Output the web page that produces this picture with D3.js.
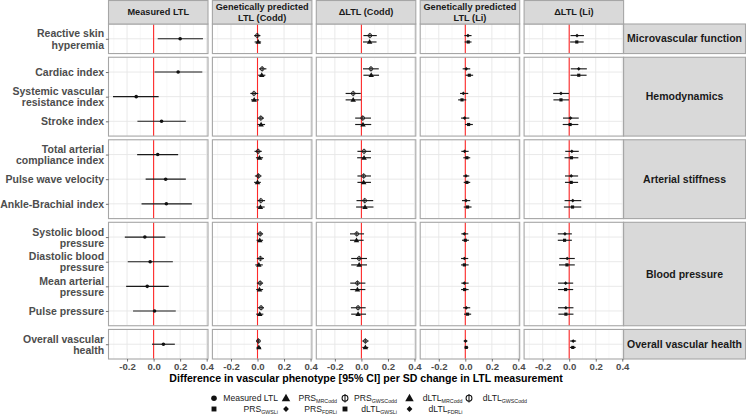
<!DOCTYPE html>
<html><head><meta charset="utf-8">
<script src="https://cdn.jsdelivr.net/npm/d3@7"></script>
<style>
html,body{margin:0;padding:0;background:#fff;}
svg{display:block;font-family:"Liberation Sans",Arial,Helvetica,sans-serif;}
</style></head>
<body><svg id="chart" width="746" height="414"></svg>
<script>
// ---------- DATA ----------
const columnLabels = ["Measured LTL", "Genetically predicted\nLTL (Codd)", "\u0394LTL (Codd)", "Genetically predicted\nLTL (Li)", "\u0394LTL (Li)"];
const groupLabels = ["Microvascular function", "Hemodynamics", "Arterial stiffness", "Blood pressure", "Overall vascular health"];
const outcomes = ["Reactive skin\nhyperemia", "Cardiac index", "Systemic vascular\nresistance index", "Stroke index",
  "Total arterial\ncompliance index", "Pulse wave velocity", "Ankle-Brachial index",
  "Systolic blood\npressure", "Diastolic blood\npressure", "Mean arterial\npressure", "Pulse pressure",
  "Overall vascular\nhealth"];
const outcomeGroup = [0, 1, 1, 1, 2, 2, 2, 3, 3, 3, 3, 4];
const xTicks = [-0.2, 0.0, 0.2, 0.4];
const xMinor = [-0.3, -0.1, 0.1, 0.3];

// [estimate, lower, upper] per outcome
const measuredLTL = [[0.200,0.031,0.372],[0.185,0.007,0.367],[-0.131,-0.306,0.038],[0.060,-0.122,0.243],
  [0.031,-0.124,0.185],[0.091,-0.060,0.243],[0.096,-0.091,0.288],[-0.066,-0.217,0.088],
  [-0.026,-0.195,0.145],[-0.048,-0.207,0.114],[0.007,-0.155,0.167],[0.074,-0.012,0.160]];
const PRS_MRCodd = [[0.005,-0.022,0.027],[0.032,0.005,0.059],[-0.025,-0.049,0.010],[0.027,0.000,0.057],
  [0.015,-0.012,0.042],[0.000,-0.025,0.025],[0.022,-0.007,0.054],[0.017,-0.007,0.042],
  [0.010,-0.017,0.040],[0.015,-0.010,0.042],[0.017,-0.010,0.044],[0.010,-0.007,0.025]];
const PRS_GWSCodd = [[-0.002,-0.025,0.022],[0.035,0.012,0.067],[-0.027,-0.054,0.005],[0.025,0.000,0.049],
  [0.005,-0.022,0.032],[0.007,-0.020,0.030],[0.025,0.000,0.057],[0.020,-0.005,0.042],
  [0.022,-0.005,0.049],[0.020,-0.005,0.042],[0.027,0.002,0.049],[0.007,-0.010,0.022]];
const dLTL_MRCodd = [[0.062,0.012,0.114],[0.074,0.015,0.133],[-0.062,-0.119,-0.002],[0.012,-0.047,0.074],
  [0.020,-0.032,0.072],[0.017,-0.030,0.072],[0.027,-0.040,0.091],[-0.037,-0.086,0.017],
  [-0.017,-0.077,0.042],[-0.030,-0.084,0.030],[-0.025,-0.077,0.035],[0.030,0.007,0.052]];
const dLTL_GWSCodd = [[0.064,0.015,0.116],[0.072,0.012,0.131],[-0.062,-0.119,-0.005],[0.010,-0.047,0.072],
  [0.020,-0.030,0.072],[0.017,-0.030,0.072],[0.025,-0.037,0.089],[-0.035,-0.086,0.020],
  [-0.017,-0.077,0.042],[-0.030,-0.084,0.030],[-0.025,-0.079,0.032],[0.030,0.007,0.054]];
const PRS_GWSLi = [[0.022,-0.005,0.047],[0.030,0.002,0.059],[-0.025,-0.054,0.007],[0.025,-0.002,0.057],
  [0.012,-0.015,0.037],[0.012,-0.012,0.037],[0.017,-0.012,0.047],[0.000,-0.025,0.027],
  [-0.007,-0.032,0.025],[-0.005,-0.032,0.025],[0.017,-0.010,0.044],[0.007,-0.005,0.022]];
const PRS_FDRLi = [[0.020,-0.007,0.047],[0.007,-0.020,0.037],[-0.015,-0.040,0.022],[-0.005,-0.032,0.030],
  [-0.005,-0.030,0.025],[0.005,-0.017,0.030],[0.005,-0.025,0.037],[-0.007,-0.030,0.022],
  [-0.007,-0.032,0.022],[-0.007,-0.030,0.025],[0.007,-0.017,0.037],[0.002,-0.012,0.015]];
const dLTL_GWSLi = [[0.057,0.007,0.109],[0.072,0.010,0.131],[-0.062,-0.119,-0.002],[0.007,-0.049,0.069],
  [0.017,-0.035,0.069],[0.015,-0.032,0.067],[0.025,-0.040,0.091],[-0.035,-0.086,0.020],
  [-0.017,-0.077,0.042],[-0.027,-0.084,0.030],[-0.025,-0.081,0.032],[0.027,0.005,0.049]];
const dLTL_FDRLi = [[0.059,0.010,0.111],[0.072,0.012,0.133],[-0.062,-0.121,-0.002],[0.010,-0.047,0.072],
  [0.020,-0.030,0.072],[0.015,-0.032,0.067],[0.027,-0.035,0.091],[-0.032,-0.086,0.020],
  [-0.015,-0.074,0.042],[-0.027,-0.084,0.030],[-0.025,-0.084,0.032],[0.030,0.007,0.052]];

// series: column index, dodge (-1 top, 0 centre, +1 bottom), shape
const series = [
  {key:"Measured LTL", base:"Measured LTL", sub:"", data:measuredLTL, col:0, dodge:0, shape:"circle"},
  {key:"PRS_MRCodd", base:"PRS", sub:"MRCodd", data:PRS_MRCodd, col:1, dodge:1, shape:"triangle"},
  {key:"PRS_GWSCodd", base:"PRS", sub:"GWSCodd", data:PRS_GWSCodd, col:1, dodge:-1, shape:"phi"},
  {key:"dLTL_MRCodd", base:"dLTL", sub:"MRCodd", data:dLTL_MRCodd, col:2, dodge:1, shape:"triangle"},
  {key:"dLTL_GWSCodd", base:"dLTL", sub:"GWSCodd", data:dLTL_GWSCodd, col:2, dodge:-1, shape:"phi"},
  {key:"PRS_GWSLi", base:"PRS", sub:"GWSLi", data:PRS_GWSLi, col:3, dodge:1, shape:"square"},
  {key:"PRS_FDRLi", base:"PRS", sub:"FDRLi", data:PRS_FDRLi, col:3, dodge:-1, shape:"diamond"},
  {key:"dLTL_GWSLi", base:"dLTL", sub:"GWSLi", data:dLTL_GWSLi, col:4, dodge:1, shape:"square"},
  {key:"dLTL_FDRLi", base:"dLTL", sub:"FDRLi", data:dLTL_FDRLi, col:4, dodge:-1, shape:"diamond"}
];

// ---------- LAYOUT ----------
const svg = d3.select("#chart");
const panelLeft = 108.5, panelW = 99.5, gapX = 4.4;
const panelTop = 24, panelBottom = 359, gapY = 3.7;
const borderCol = "#a6a6a6";
const nPerGroup = groupLabels.map((g, gi) => outcomeGroup.filter(o => o === gi).length);
const units = nPerGroup.map(n => n - 1 + 1.2);
const unit = (panelBottom - panelTop - gapY * (groupLabels.length - 1)) / d3.sum(units);

const rowTops = [];
{ let y = panelTop; units.forEach(u => { rowTops.push(y); y += u * unit + gapY; }); }
const rowH = units.map(u => u * unit);

const yScales = groupLabels.map((g, gi) => {
  const items = outcomes.filter((o, i) => outcomeGroup[i] === gi);
  return d3.scalePoint().domain(items).range([rowTops[gi], rowTops[gi] + rowH[gi]]).padding(0.6);
});
const xScales = columnLabels.map((c, ci) => {
  const x0 = panelLeft + ci * (panelW + gapX);
  return d3.scaleLinear().domain([-0.34, 0.41]).range([x0, x0 + panelW]);
});
const stripX = xScales[4].range()[1];
const stripRightW = 746 - stripX - 0.5;

// shapes
function drawShape(g, shape, x, y, s) {
  if (shape === "circle") {
    g.append("circle").attr("cx", x).attr("cy", y).attr("r", 1.8 * s).attr("fill", "#111");
  } else if (shape === "triangle") {
    g.append("path").attr("d", d3.symbol(d3.symbolTriangle, 13 * s * s)()).attr("transform", `translate(${x},${y + 0.3 * s})`).attr("fill", "#111");
  } else if (shape === "square") {
    g.append("path").attr("d", d3.symbol(d3.symbolSquare, 10 * s * s)()).attr("transform", `translate(${x},${y})`).attr("fill", "#111");
  } else if (shape === "diamond") {
    g.append("path").attr("d", d3.symbol(d3.symbolSquare, 7 * s * s)()).attr("transform", `translate(${x},${y}) rotate(45)`).attr("fill", "#111");
  } else if (shape === "phi") {
    g.append("circle").attr("cx", x).attr("cy", y).attr("r", 1.9 * s).attr("fill", "none").attr("stroke", "#111").attr("stroke-width", 0.8 * Math.min(s, 1.3));
    g.append("line").attr("x1", x).attr("x2", x).attr("y1", y - 2.7 * s).attr("y2", y + 2.7 * s).attr("stroke", "#111").attr("stroke-width", 0.8 * Math.min(s, 1.3));
  }
}

// ---------- PANELS ----------
groupLabels.forEach((g, gi) => {
  const y = yScales[gi];
  columnLabels.forEach((c, ci) => {
    const x = xScales[ci];
    const pg = svg.append("g");
    const [x0, x1] = x.range();
    const [y0, y1] = y.range();
    pg.append("rect").attr("x", x0).attr("y", y0).attr("width", x1 - x0).attr("height", y1 - y0).attr("fill", "#fff");
    xMinor.forEach(t => pg.append("line").attr("x1", x(t)).attr("x2", x(t)).attr("y1", y0).attr("y2", y1).attr("stroke", "#f3f3f3").attr("stroke-width", 0.6));
    xTicks.forEach(t => pg.append("line").attr("x1", x(t)).attr("x2", x(t)).attr("y1", y0).attr("y2", y1).attr("stroke", "#e6e6e6").attr("stroke-width", 0.9));
    y.domain().forEach(o => pg.append("line").attr("x1", x0).attr("x2", x1).attr("y1", y(o)).attr("y2", y(o)).attr("stroke", "#e6e6e6").attr("stroke-width", 0.9));
    pg.append("line").attr("x1", x(0)).attr("x2", x(0)).attr("y1", y0).attr("y2", y1).attr("stroke", "#ff2a2a").attr("stroke-width", 1.1);
    // marks
    const dodgeOff = y.step() * 0.13;
    series.filter(s => s.col === ci).forEach(s => {
      outcomes.forEach((o, oi) => {
        if (outcomeGroup[oi] !== gi) return;
        const [est, lo, hi] = s.data[oi];
        const yy = y(o) + s.dodge * dodgeOff;
        pg.append("line").attr("x1", x(lo)).attr("x2", x(hi)).attr("y1", yy).attr("y2", yy).attr("stroke", "#1a1a1a").attr("stroke-width", 1.15);
        drawShape(pg, s.shape, x(est), yy, 1);
      });
    });
    pg.append("rect").attr("x", x0).attr("y", y0).attr("width", x1 - x0).attr("height", y1 - y0).attr("fill", "none").attr("stroke", borderCol).attr("stroke-width", 1.1);
  });

  // y axis
  const ax = svg.append("g").attr("transform", `translate(${panelLeft},0)`)
    .call(d3.axisLeft(y).tickSize(2.6).tickPadding(1.8));
  ax.select(".domain").remove();
  ax.selectAll(".tick line").attr("stroke", "#4d4d4d").attr("stroke-width", 0.8);
  ax.selectAll(".tick text").each(function(d) {
    const t = d3.select(this);
    const lines = d.split("\n");
    t.text(null).attr("font-size", 10.5).attr("font-weight", "bold").attr("fill", "#4d4d4d")
      .attr("font-family", "Liberation Sans, Arial, sans-serif").attr("dy", null);
    lines.forEach((ln, li) => {
      t.append("tspan").attr("x", -4.4).attr("y", (li - (lines.length - 1) / 2) * 11.2).attr("dy", "0.35em").text(ln);
    });
  });

  // right strip
  const [y0, y1] = y.range();
  svg.append("rect").attr("x", stripX).attr("y", y0).attr("width", stripRightW).attr("height", y1 - y0)
    .attr("fill", "#d9d9d9").attr("stroke", borderCol).attr("stroke-width", 1.1);
  svg.append("text").attr("x", stripX + stripRightW / 2).attr("y", (y0 + y1) / 2).attr("dy", "0.35em")
    .attr("text-anchor", "middle").attr("font-size", 10.5).attr("font-weight", "bold").attr("fill", "#1a1a1a").text(g);
});

// top strips
columnLabels.forEach((c, ci) => {
  const [x0, x1] = xScales[ci].range();
  svg.append("rect").attr("x", x0).attr("y", 0.5).attr("width", x1 - x0).attr("height", panelTop - 0.5)
    .attr("fill", "#d9d9d9").attr("stroke", borderCol).attr("stroke-width", 1.1);
  const lines = c.split("\n");
  const t = svg.append("text").attr("text-anchor", "middle").attr("font-size", 9.2).attr("font-weight", "bold").attr("fill", "#1a1a1a");
  lines.forEach((ln, li) => {
    t.append("tspan").attr("x", (x0 + x1) / 2).attr("y", panelTop / 2 + (li - (lines.length - 1) / 2) * 10.6).attr("dy", "0.35em").text(ln);
  });
});

// bottom axes
const lastG = groupLabels.length - 1;
const axisY = yScales[lastG].range()[1];
xScales.forEach(x => {
  const ax = svg.append("g").attr("transform", `translate(0,${axisY})`)
    .call(d3.axisBottom(x).tickValues(xTicks).tickSize(2.6).tickPadding(1.5).tickFormat(d => d.toFixed(1)));
  ax.select(".domain").remove();
  ax.selectAll(".tick line").attr("stroke", "#4d4d4d").attr("stroke-width", 0.8);
  ax.selectAll(".tick text").attr("font-size", 9.6).attr("font-weight", "bold").attr("fill", "#4d4d4d")
    .attr("font-family", "Liberation Sans, Arial, sans-serif");
});

// axis title (fit to the width seen in the figure)
const title = svg.append("text").attr("x", (panelLeft + stripX) / 2).attr("y", 382)
  .attr("text-anchor", "middle").attr("font-size", 10).attr("font-weight", "bold").attr("fill", "#000")
  .text("Difference in vascular phenotype [95% CI] per SD change in LTL measurement");
{
  const w = title.node().getComputedTextLength();
  if (w > 0) title.attr("font-size", Math.min(11.5, 10 * 394 / w));
}

// legend
const legSymX = [214, 286, 345, 409.5, 469];
const legLabelEnd = [278, 337, 397, 462.5, 527];
const legRowY = [398.3, 409];
series.forEach((s, i) => {
  const row = i < 5 ? 0 : 1;
  const col = i < 5 ? i : i - 5;
  const yy = legRowY[row];
  const lg = svg.append("g");
  drawShape(lg, s.shape, legSymX[col], yy, 1.55);
  const t = lg.append("text").attr("x", legLabelEnd[col]).attr("y", yy).attr("dy", "0.35em")
    .attr("text-anchor", "end").attr("font-size", 8.6).attr("fill", "#1a1a1a");
  t.append("tspan").text(s.base);
  if (s.sub) t.append("tspan").attr("font-size", 5.3).attr("dy", "0.35em").text(s.sub);
});
</script></body></html>
